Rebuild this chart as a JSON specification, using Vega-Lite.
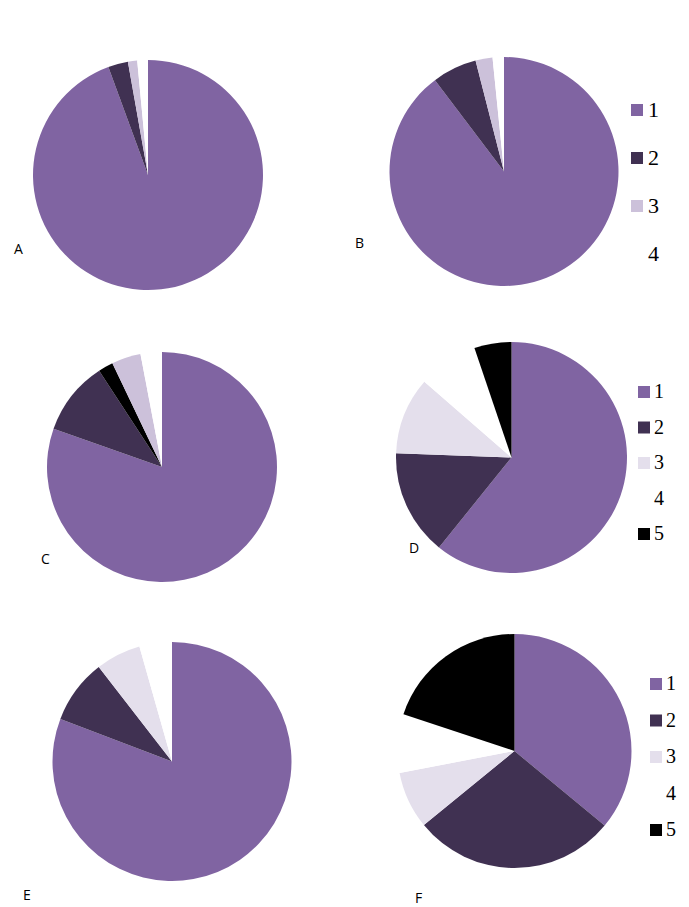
{
  "$schema": "https://vega.github.io/schema/vega-lite/v6.json",
  "padding": {"top": 50, "left": 0, "right": 0, "bottom": 0},
  "background": "white",
  "config": {"view": {"stroke": null}},
  "data": {"values": [
    {"chart": "A", "cat": 1, "value": 94.4},
    {"chart": "A", "cat": 2, "value": 2.8},
    {"chart": "A", "cat": 3, "value": 1.3},
    {"chart": "A", "cat": 4, "value": 1.5},
    {"chart": "B", "cat": 1, "value": 89.7},
    {"chart": "B", "cat": 2, "value": 6.3},
    {"chart": "B", "cat": 3, "value": 2.4},
    {"chart": "B", "cat": 4, "value": 1.6},
    {"chart": "C", "cat": 1, "value": 80.4},
    {"chart": "C", "cat": 2, "value": 10.4},
    {"chart": "C", "cat": 3, "value": 2.1},
    {"chart": "C", "cat": 4, "value": 4.1},
    {"chart": "C", "cat": 5, "value": 3.0},
    {"chart": "D", "cat": 1, "value": 60.8},
    {"chart": "D", "cat": 2, "value": 14.8},
    {"chart": "D", "cat": 3, "value": 10.8},
    {"chart": "D", "cat": 4, "value": 8.4},
    {"chart": "D", "cat": 5, "value": 5.2},
    {"chart": "E", "cat": 1, "value": 80.8},
    {"chart": "E", "cat": 2, "value": 8.7},
    {"chart": "E", "cat": 3, "value": 6.1},
    {"chart": "E", "cat": 4, "value": 4.4},
    {"chart": "F", "cat": 1, "value": 36.0},
    {"chart": "F", "cat": 2, "value": 28.1},
    {"chart": "F", "cat": 3, "value": 7.9},
    {"chart": "F", "cat": 4, "value": 8.1},
    {"chart": "F", "cat": 5, "value": 19.9}
  ]},
  "columns": 2,
  "bounds": "flush",
  "align": "each",
  "spacing": {"row": 0, "column": 52},
  "resolve": {"scale": {"color": "independent", "theta": "independent"}, "legend": {"color": "independent"}},
  "concat": [
    {
      "width": 296, "height": 250,
      "transform": [{"filter": "datum.chart === 'A'"}],
      "title": {"text": "A", "orient": "top", "anchor": "start", "frame": "group", "offset": -218, "dx": 14, "baseline": "alphabetic", "font": "Open Sans", "fontSize": 14, "fontWeight": "normal", "color": "#000000"},
      "mark": {"type": "arc", "outerRadius": 115},
      "encoding": {
        "theta": {"field": "value", "type": "quantitative", "stack": true},
        "order": {"field": "cat", "type": "quantitative"},
        "color": {"field": "cat", "type": "nominal", "scale": {"domain": [1, 2, 3, 4], "range": ["#8064a2", "#403152", "#ccc1da", "#ffffff"]}, "legend": null}
      }
    },
    {
      "width": 216, "height": 243,
      "transform": [{"filter": "datum.chart === 'B'"}],
      "title": {"text": "B", "orient": "top", "anchor": "start", "frame": "group", "offset": -212, "dx": -41, "baseline": "alphabetic", "font": "Open Sans", "fontSize": 14, "fontWeight": "normal", "color": "#000000"},
      "mark": {"type": "arc", "outerRadius": 114.5},
      "encoding": {
        "theta": {"field": "value", "type": "quantitative", "stack": true},
        "order": {"field": "cat", "type": "quantitative"},
        "color": {"field": "cat", "type": "nominal", "scale": {"domain": [1, 2, 3, 4], "range": ["#8064a2", "#403152", "#ccc1da", "#ffffff"]},
          "legend": {"orient": "right", "title": null, "symbolType": "square", "symbolSize": 144, "symbolStrokeWidth": 0, "labelFont": "Liberation Serif", "labelFontSize": 22, "labelColor": "#000000", "rowPadding": 26, "padding": 49, "offset": -35, "labelOffset": 0}}
      }
    },
    {
      "width": 324, "height": 334,
      "transform": [{"filter": "datum.chart === 'C'"}],
      "title": {"text": "C", "orient": "top", "anchor": "start", "frame": "group", "offset": -278, "dx": 41, "baseline": "alphabetic", "font": "Open Sans", "fontSize": 14, "fontWeight": "normal", "color": "#000000"},
      "mark": {"type": "arc", "outerRadius": 115},
      "encoding": {
        "theta": {"field": "value", "type": "quantitative", "stack": true},
        "order": {"field": "cat", "type": "quantitative"},
        "color": {"field": "cat", "type": "nominal", "scale": {"domain": [1, 2, 3, 4, 5], "range": ["#8064a2", "#403152", "#000000", "#ccc1da", "#ffffff"]}, "legend": null}
      }
    },
    {
      "width": 231, "height": 315,
      "transform": [{"filter": "datum.chart === 'D'"}],
      "title": {"text": "D", "orient": "top", "anchor": "start", "frame": "group", "offset": -267, "dx": 13, "baseline": "alphabetic", "font": "Open Sans", "fontSize": 14, "fontWeight": "normal", "color": "#000000"},
      "mark": {"type": "arc", "outerRadius": 115.5},
      "encoding": {
        "theta": {"field": "value", "type": "quantitative", "stack": true},
        "order": {"field": "cat", "type": "quantitative"},
        "color": {"field": "cat", "type": "nominal", "scale": {"domain": [1, 2, 3, 4, 5], "range": ["#8064a2", "#403152", "#e4dfec", "#ffffff", "#000000"]},
          "legend": {"orient": "right", "title": null, "symbolType": "square", "symbolSize": 144, "symbolStrokeWidth": 0, "labelFont": "Liberation Serif", "labelFontSize": 20, "labelColor": "#000000", "rowPadding": 15.5, "padding": 82, "offset": -75, "labelOffset": 0}}
      }
    },
    {
      "width": 344, "height": 255,
      "transform": [{"filter": "datum.chart === 'E'"}],
      "title": {"text": "E", "orient": "top", "anchor": "start", "frame": "group", "offset": -280, "dx": 23, "baseline": "alphabetic", "font": "Open Sans", "fontSize": 14, "fontWeight": "normal", "color": "#000000"},
      "mark": {"type": "arc", "outerRadius": 119.5},
      "encoding": {
        "theta": {"field": "value", "type": "quantitative", "stack": true},
        "order": {"field": "cat", "type": "quantitative"},
        "color": {"field": "cat", "type": "nominal", "scale": {"domain": [1, 2, 3, 4], "range": ["#8064a2", "#403152", "#e4dfec", "#ffffff"]}, "legend": null}
      }
    },
    {
      "width": 237, "height": 234,
      "transform": [{"filter": "datum.chart === 'F'"}],
      "title": {"text": "F", "orient": "top", "anchor": "start", "frame": "group", "offset": -283, "dx": 19, "baseline": "alphabetic", "font": "Open Sans", "fontSize": 14, "fontWeight": "normal", "color": "#000000"},
      "mark": {"type": "arc", "outerRadius": 117},
      "encoding": {
        "theta": {"field": "value", "type": "quantitative", "stack": true},
        "order": {"field": "cat", "type": "quantitative"},
        "color": {"field": "cat", "type": "nominal", "scale": {"domain": [1, 2, 3, 4, 5], "range": ["#8064a2", "#403152", "#e4dfec", "#ffffff", "#000000"]},
          "legend": {"orient": "right", "title": null, "symbolType": "square", "symbolSize": 144, "symbolStrokeWidth": 0, "labelFont": "Liberation Serif", "labelFontSize": 20, "labelColor": "#000000", "rowPadding": 16.5, "padding": 40, "offset": -27, "labelOffset": 0}}
      }
    }
  ]
}
